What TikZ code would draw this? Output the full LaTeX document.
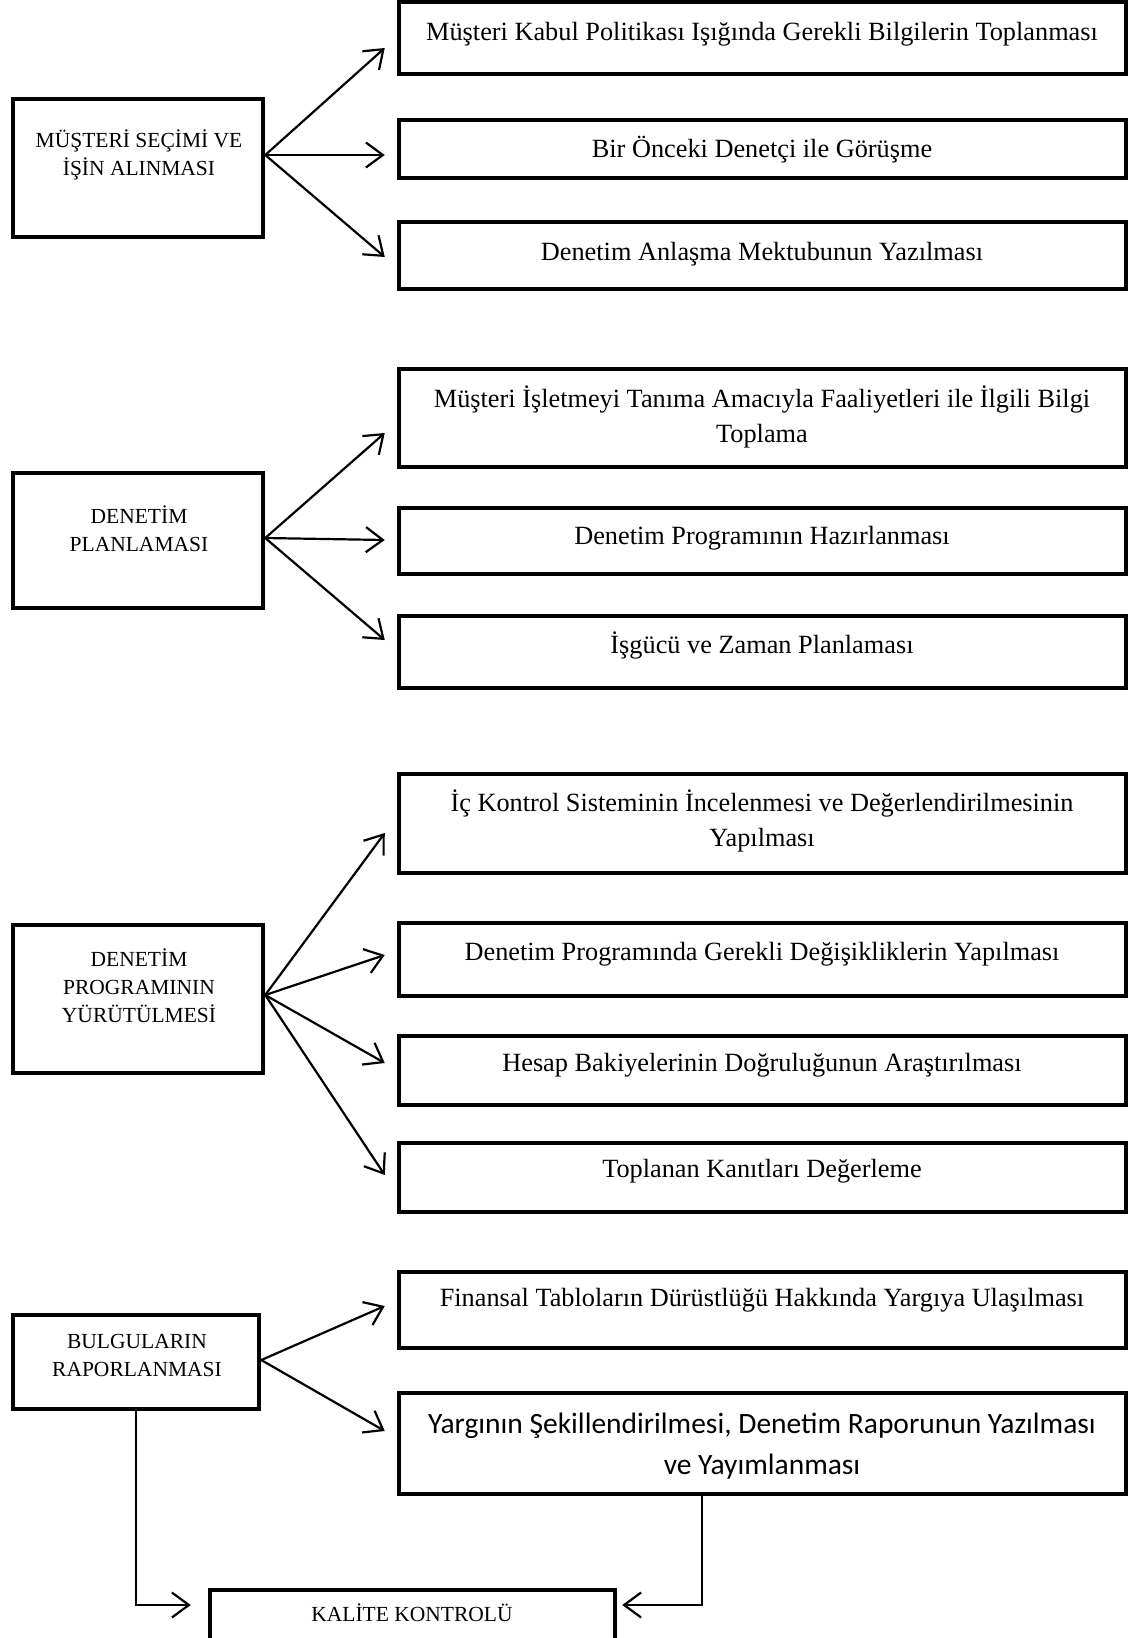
\documentclass[tikz,border=0pt]{standalone}
\usepackage{fontspec}
\setmainfont{Liberation Serif}
\newfontfamily\calibrifont{Carlito}
\usetikzlibrary{arrows.meta}
\tikzset{
  bx/.style={draw, line width=4.5pt, minimum width=#1, inner sep=0pt, anchor=center},
  rbox/.style={bx=727pt},
  lbox/.style={bx=250pt},
  ltext/.style={align=center, inner sep=0pt, font=\fontsize{21.5}{28}\selectfont},
  rtext/.style={align=center, inner sep=0pt, font=\fontsize{26.3}{35}\selectfont},
  ctext/.style={align=center, inner sep=0pt, font=\calibrifont\fontsize{29.5}{41}\selectfont},
  arr/.style={line width=2.2pt, -{Straight Barb[length=17pt,width=25pt,line width=2.2pt]}},
}
\begin{document}
\begin{tikzpicture}[x=1pt,y=-1pt]
\useasboundingbox (0,0) rectangle (1147,1638);
% left boxes
\node[lbox, minimum height=138pt] (L1) at (138,168) {};
\node[lbox, minimum height=135pt] (L2) at (138,540.5) {};
\node[lbox, minimum height=148pt] (L3) at (138,999) {};
\node[bx=246pt, minimum height=94pt] (L4) at (136,1362) {};
\node[ltext] (L1t) at (139,155) {MÜŞTERİ SEÇİMİ VE\\İŞİN ALINMASI};
\node[ltext] (L2t) at (139,528.5) {DENETİM\\PLANLAMASI};
\node[ltext] (L3t) at (139,986) {DENETİM\\PROGRAMININ\\YÜRÜTÜLMESİ};
\node[ltext] (L4t) at (137,1355) {BULGULARIN\\RAPORLANMASI};
% right boxes
\node[rbox, minimum height=72pt] (R1a) at (762.5,38) {};
\node[rbox, minimum height=58pt] (R1b) at (762.5,149) {};
\node[rbox, minimum height=67pt] (R1c) at (762.5,255.5) {};
\node[rbox, minimum height=98pt] (R2a) at (762.5,418) {};
\node[rbox, minimum height=66pt] (R2b) at (762.5,541) {};
\node[rbox, minimum height=72pt] (R2c) at (762.5,652) {};
\node[rbox, minimum height=99pt] (R3a) at (762.5,823.5) {};
\node[rbox, minimum height=73pt] (R3b) at (762.5,959.5) {};
\node[rbox, minimum height=69pt] (R3c) at (762.5,1070.5) {};
\node[rbox, minimum height=69pt] (R3d) at (762.5,1177.5) {};
\node[rbox, minimum height=76pt] (R4a) at (762.5,1310) {};
\node[rbox, minimum height=101pt] (R4b) at (762.5,1443.5) {};
\node[bx=405pt, minimum height=60pt] (K) at (412.5,1620) {};
% right texts
\node[rtext] (R1at) at (762,34) {Müşteri Kabul Politikası Işığında Gerekli Bilgilerin Toplanması};
\node[rtext] (R1bt) at (762,150) {Bir Önceki Denetçi ile Görüşme};
\node[rtext] (R1ct) at (762,254) {Denetim Anlaşma Mektubunun Yazılması};
\node[rtext] (R2at) at (762,417) {Müşteri İşletmeyi Tanıma Amacıyla Faaliyetleri ile İlgili Bilgi\\Toplama};
\node[rtext] (R2bt) at (762,538) {Denetim Programının Hazırlanması};
\node[rtext] (R2ct) at (762,645) {İşgücü ve Zaman Planlaması};
\node[rtext] (R3at) at (762,821) {İç Kontrol Sisteminin İncelenmesi ve Değerlendirilmesinin\\Yapılması};
\node[rtext] (R3bt) at (762,954) {Denetim Programında Gerekli Değişikliklerin Yapılması};
\node[rtext] (R3ct) at (762,1065) {Hesap Bakiyelerinin Doğruluğunun Araştırılması};
\node[rtext] (R3dt) at (762,1171) {Toplanan Kanıtları Değerleme};
\node[rtext] (R4at) at (762,1300) {Finansal Tabloların Dürüstlüğü Hakkında Yargıya Ulaşılması};
\node[ctext] (R4bt) at (762,1446.5) {Yargının Şekillendirilmesi, Denetim Raporunun Yazılması\\ve Yayımlanması};
\node[ltext] (Kt) at (412,1613) {KALİTE KONTROLÜ};
% arrows group 1
\draw[arr] ([yshift=13pt]L1.east) -- ([xshift=-12pt,yshift=-10pt]R1a.west);
\draw[arr] ([yshift=13pt]L1.east) -- ([xshift=-12pt,yshift=-6pt]R1b.west);
\draw[arr] ([yshift=13pt]L1.east) -- ([xshift=-12pt,yshift=-1.5pt]R1c.west);
% group 2
\draw[arr] ([yshift=2.5pt]L2.east) -- ([xshift=-12pt,yshift=-15pt]R2a.west);
\draw[arr] ([yshift=2.5pt]L2.east) -- ([xshift=-12pt,yshift=1pt]R2b.west);
\draw[arr] ([yshift=2.5pt]L2.east) -- ([xshift=-12pt,yshift=12pt]R2c.west);
% group 3
\draw[arr] ([yshift=4pt]L3.east) -- ([xshift=-12pt,yshift=-9.5pt]R3a.west);
\draw[arr] ([yshift=4pt]L3.east) -- ([xshift=-12pt,yshift=4.5pt]R3b.west);
\draw[arr] ([yshift=4pt]L3.east) -- ([xshift=-12pt,yshift=7.5pt]R3c.west);
\draw[arr] ([yshift=4pt]L3.east) -- ([xshift=-12pt,yshift=2.5pt]R3d.west);
% group 4
\draw[arr] ([yshift=2pt]L4.east) -- ([xshift=-12pt,yshift=4pt]R4a.west);
\draw[arr] ([yshift=2pt]L4.east) -- ([xshift=-12pt,yshift=12.5pt]R4b.west);
% bottom connectors
\draw[arr] (L4.south) |- ([xshift=-17pt,yshift=15pt]K.west);
\draw[arr] ([xshift=-60.5pt]R4b.south) |- ([xshift=5pt,yshift=15pt]K.east);
\end{tikzpicture}
\end{document}
